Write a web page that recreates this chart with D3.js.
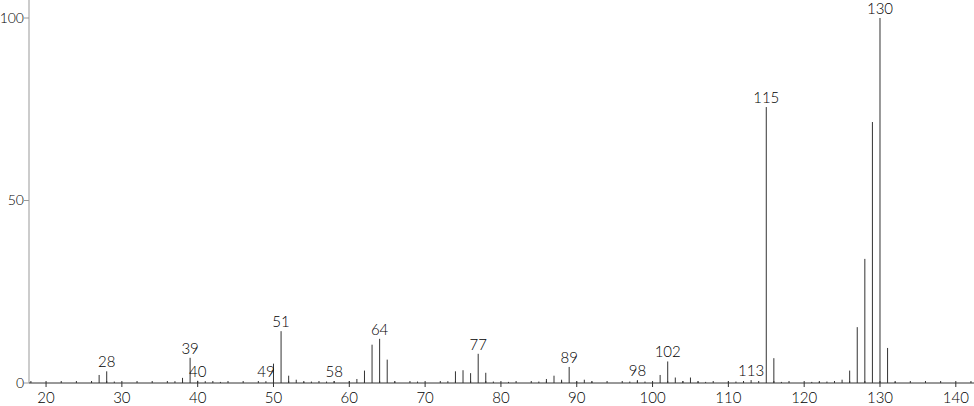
<!DOCTYPE html>
<html>
<head>
<meta charset="utf-8">
<script src="https://cdn.jsdelivr.net/npm/d3@7"></script>
<style>
    body { margin: 0; background: #fff; }
    text { font-family: "Lato", sans-serif; font-weight: 300; font-size: 15px; fill: #000; }
    text.ylabel { font-size: 14px; }
</style>
</head>
<body>
<svg id="spectrum" width="974" height="406"></svg>
<script>
// m/z values and relative intensities
var masses = [26, 27, 28, 29, 37, 38, 39, 40, 41, 43, 49, 50, 51, 52, 53, 54, 55, 57, 58, 60, 61, 62, 63, 64, 65, 66,
    69, 73, 74, 75, 76, 77, 78, 79, 81, 85, 86, 87, 88, 89, 90, 91, 92, 97, 98, 99, 101, 102, 103, 104, 105, 106, 107,
    110, 111, 112, 113, 115, 116, 117, 121, 122, 123, 124, 125, 126, 127, 128, 129, 130, 131, 132];
var intensities = [0.4, 2.2, 3.2, 0.4, 0.5, 1.4, 6.9, 0.6, 0.5, 0.3, 0.5, 5.3, 14.2, 2.0, 0.9, 0.3, 0.4, 0.4, 0.5, 0.5, 1.1, 3.4, 10.5, 12.1, 6.4, 0.4,
    0.4, 0.5, 3.2, 3.5, 2.7, 8.0, 2.8, 0.4, 0.3, 0.4, 1.1, 2.0, 0.9, 4.4, 0.4, 0.9, 0.4, 0.4, 0.8, 0.4, 2.2, 5.9, 1.5, 0.5, 1.5, 0.4, 0.3,
    0.4, 0.4, 0.4, 0.8, 75.6, 6.8, 0.3, 0.3, 0.3, 0.4, 0.4, 0.9, 3.4, 15.3, 34, 71.5, 100, 9.6, 0.3];

// peaks that get a number on top
var labelled = [28, 39, 40, 49, 51, 58, 64, 77, 89, 98, 102, 113, 115, 130];

var xTicks = [20, 30, 40, 50, 60, 70, 80, 90, 100, 110, 120, 130, 140];
var yTicks = [0, 50, 100];

var svg = d3.select("#spectrum");
const width = +svg.attr("width");
const height = +svg.attr("height");

const left = 29;
const baseline = 383;

var xScale = d3.scaleLinear().domain([17.75, 142.4]).range([left, width]);
var yScale = d3.scaleLinear().domain([0, 100]).range([baseline, 18]);

var peaks = masses.map((m, i) => { return { Mass: m, Intensity: intensities[i] }; });

//y axis, plain grey line with three ticks
svg.append("line")
    .attr("x1", left).attr("x2", left)
    .attr("y1", 0).attr("y2", baseline)
    .style("stroke", "#999");

svg.selectAll(".ytick")
    .data(yTicks)
    .enter()
    .append("line")
    .attr("class", "ytick")
    .attr("x1", left - 5).attr("x2", left)
    .attr("y1", (d) => yScale(d)).attr("y2", (d) => yScale(d))
    .style("stroke", "#999");

svg.selectAll(".ylabel")
    .data(yTicks)
    .enter()
    .append("text")
    .attr("class", "ylabel")
    .attr("x", left - 5)
    .attr("y", (d) => yScale(d))
    .attr("dy", "0.35em")
    .attr("text-anchor", "end")
    .text((d) => d);

//x axis line
svg.append("line")
    .attr("x1", left).attr("x2", width)
    .attr("y1", baseline).attr("y2", baseline)
    .style("stroke", "#333");

//minor ticks every 2, major every 10
var minor = d3.range(18, 143, 2).filter((d) => d % 10 != 0);
svg.selectAll(".minor")
    .data(minor)
    .enter()
    .append("line")
    .attr("class", "minor")
    .attr("x1", (d) => xScale(d)).attr("x2", (d) => xScale(d))
    .attr("y1", baseline - 2).attr("y2", baseline)
    .style("stroke", "#333");

svg.selectAll(".major")
    .data(xTicks)
    .enter()
    .append("line")
    .attr("class", "major")
    .attr("x1", (d) => xScale(d)).attr("x2", (d) => xScale(d))
    .attr("y1", baseline - 2).attr("y2", baseline + 4)
    .style("stroke", "#333");

svg.selectAll(".xlabel")
    .data(xTicks)
    .enter()
    .append("text")
    .attr("class", "xlabel")
    .attr("x", (d) => xScale(d))
    .attr("y", baseline + 20)
    .attr("text-anchor", "middle")
    .text((d) => d);

//the stick spectrum
svg.selectAll(".peak")
    .data(peaks)
    .enter()
    .append("line")
    .attr("class", "peak")
    .attr("x1", (d) => xScale(d.Mass)).attr("x2", (d) => xScale(d.Mass))
    .attr("y1", baseline).attr("y2", (d) => yScale(d.Intensity))
    .style("stroke", "#333");

svg.selectAll(".peakLabel")
    .data(peaks.filter((d) => labelled.indexOf(d.Mass) >= 0))
    .enter()
    .append("text")
    .attr("class", "peakLabel")
    .attr("x", (d) => xScale(d.Mass))
    .attr("y", (d) => yScale(d.Intensity) - 4)
    .attr("text-anchor", "middle")
    .text((d) => d.Mass);
</script>
</body>
</html>
